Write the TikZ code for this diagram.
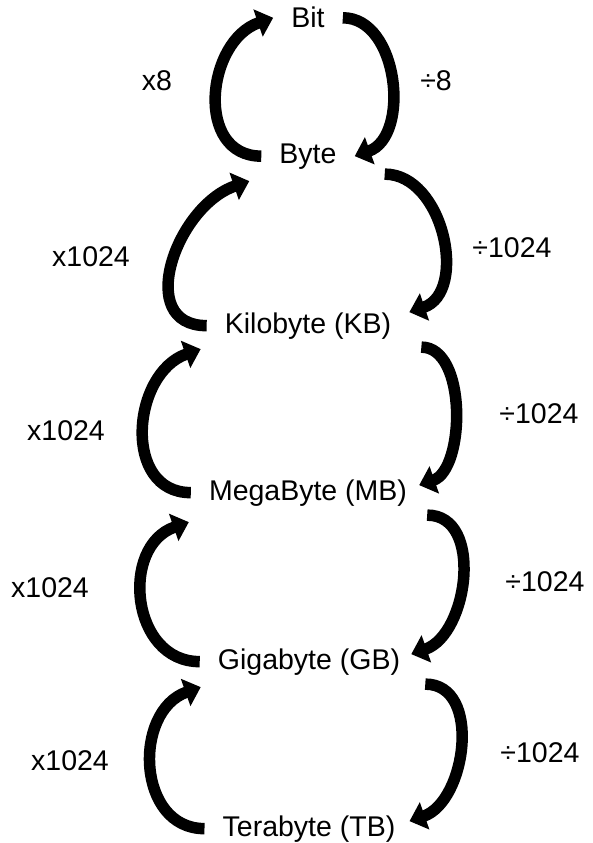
\documentclass[tikz,border=0pt]{standalone}
\usepackage{fontspec}
\setmainfont{Liberation Sans}
\usetikzlibrary{arrows.meta, positioning}

\newcommand{\unitfont}{\fontsize{28.5}{34}\selectfont}

\begin{document}
\begin{tikzpicture}[
  x=1pt, y=1pt,
  unitnode/.style={font=\unitfont, inner xsep=18pt, inner ysep=0pt, anchor=base},
  ratelabel/.style={font=\unitfont, inner sep=0pt, anchor=base},
  convarrow/.style={line width=11.5pt, -{Triangle[length=16pt, width=28pt]}}
]
\useasboundingbox (0,0) rectangle (593,-843);

% --- Units ---
\node[unitnode] (bit)  at (308,-28)  {Bit};
\node[unitnode] (byte) at (308,-163) {Byte};
\node[unitnode] (kb)   at (308,-333) {Kilobyte (KB)};
\node[unitnode] (mb)   at (308,-500) {MegaByte (MB)};
\node[unitnode] (gb)   at (309,-669) {Gigabyte (GB)};
\node[unitnode] (tb)   at (309,-836) {Terabyte (TB)};

% --- Factors ---
\node[ratelabel] (up1)   at (157,-90)  {x8};
\node[ratelabel] (down1) at (436,-90)  {÷8};
\node[ratelabel] (up2)   at (91,-266)  {x1024};
\node[ratelabel] (down2) at (512,-257) {÷1024};
\node[ratelabel] (up3)   at (66,-440)  {x1024};
\node[ratelabel] (down3) at (539,-423) {÷1024};
\node[ratelabel] (up4)   at (50,-597)  {x1024};
\node[ratelabel] (down4) at (545,-591) {÷1024};
\node[ratelabel] (up5)   at (70,-770)  {x1024};
\node[ratelabel] (down5) at (540,-762) {÷1024};

% --- Bit / Byte ---
\draw[convarrow] (byte.west) .. controls +(-67,0) and +(-67,-23) .. (bit.west);
\draw[convarrow] (bit.east) .. controls +(56,0) and +(56,20) .. (byte.east);

% --- Byte / KB ---
\draw[convarrow] (kb.west) .. controls +(-73,0) and +(-73,-25) .. ([shift={(-12pt,-12pt)}]byte.south west);
\draw[convarrow] ([shift={(30pt,-5pt)}]byte.south east) .. controls +(59,0) and +(59,20) .. (kb.north east);

% --- KB / MB ---
\draw[convarrow] (mb.west) .. controls +(-69,0) and +(-69,-24) .. ([shift={(-6pt,-10pt)}]kb.south west);
\draw[convarrow] ([shift={(12pt,-8pt)}]kb.south east) .. controls +(46,0) and +(46,16) .. ([shift={(-6pt,-6pt)}]mb.north east);

% --- MB / GB ---
\draw[convarrow] (gb.west) .. controls +(-69,0) and +(-69,-24) .. ([shift={(-2pt,-16pt)}]mb.south west);
\draw[convarrow] ([shift={(2pt,-9pt)}]mb.south east) .. controls +(57,0) and +(57,20) .. ([shift={(-7pt,-6pt)}]gb.north east);

% --- GB / TB ---
\draw[convarrow] (tb.west) .. controls +(-68,0) and +(-68,-24) .. ([shift={(1pt,-12pt)}]gb.south west);
\draw[convarrow] ([shift={(7pt,-9pt)}]gb.south east) .. controls +(57,0) and +(57,20) .. ([shift={(-4pt,-6pt)}]tb.north east);

\end{tikzpicture}
\end{document}
